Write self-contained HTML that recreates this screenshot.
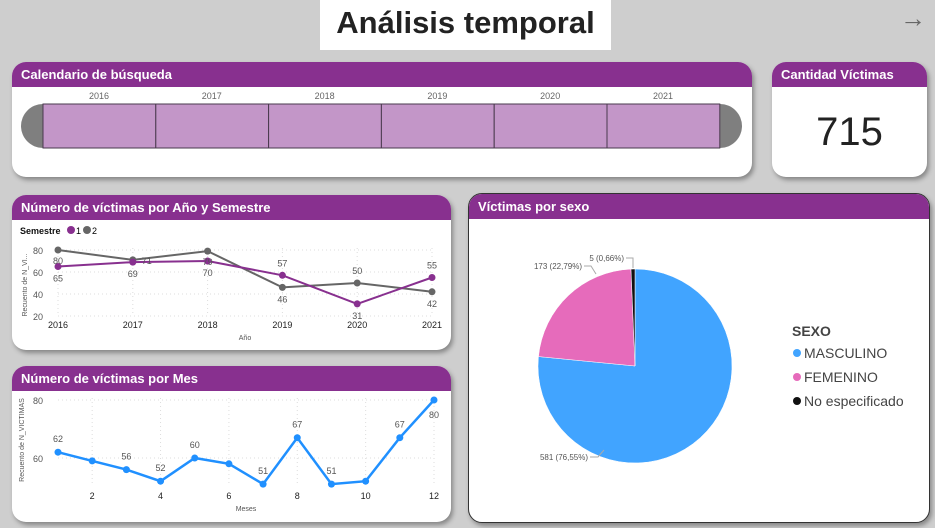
<!DOCTYPE html>
<html><head><meta charset="utf-8"><style>
body{margin:0;width:935px;height:528px;background:#cecece;font-family:"Liberation Sans",sans-serif;overflow:hidden;position:relative}
.card{position:absolute;background:#fff;border-radius:14px;box-shadow:2px 3px 5px rgba(0,0,0,.35);overflow:hidden}
.hdr{background:#88308f;color:#fff;font-weight:bold;font-size:13px;height:25px;line-height:26px;padding-left:9px}
svg text{font-family:"Liberation Sans",sans-serif}
</style></head><body>
<div style="position:absolute;left:320px;top:0;width:291px;height:50px;background:#fff;text-align:center;font-size:31px;font-weight:bold;line-height:46px;color:#222">Análisis temporal</div>
<div style="position:absolute;left:900px;top:3px;font-size:26px;color:#666">→</div>

<div class="card" style="left:12px;top:62px;width:740px;height:115px">
<div class="hdr">Calendario de búsqueda</div>
<svg width="740" height="90" id="cal"></svg>
</div>

<div class="card" style="left:772px;top:62px;width:155px;height:115px">
<div class="hdr">Cantidad Víctimas</div>
<div style="text-align:center;font-size:40px;line-height:90px;color:#222">715</div>
</div>

<div class="card" style="left:12px;top:195px;width:439px;height:155px">
<div class="hdr">Número de víctimas por Año y Semestre</div>
</div>
<div class="card" style="left:12px;top:366px;width:439px;height:156px">
<div class="hdr">Número de víctimas por Mes</div>
</div>
<div class="card" style="left:468px;top:193px;width:460px;height:328px;border:1px solid #333">
<div class="hdr">Víctimas por sexo</div>
</div>

<svg id="main" width="935" height="528" style="position:absolute;left:0;top:0"></svg>

<script>
const calYears=["2016","2017","2018","2019","2020","2021"];
const years=["2016","2017","2018","2019","2020","2021"];
const sem1=[65,69,70,57,31,55];
const sem2=[80,71,79,46,50,42];
const yearTicks=[20,40,60,80];
const months=[1,2,3,4,5,6,7,8,9,10,11,12];
const monthVals=[62,59,56,52,60,58,51,67,51,52,67,80];
const monthLabelShown=[1,0,1,1,1,0,1,1,1,0,1,1];
const monthTicks=[60,80];
const sexLabels=["MASCULINO","FEMENINO","No especificado"];
const sexVals=[581,173,5];
const sexPct=["76,55%","22,79%","0,66%"];
const sexColors=["#41a4ff","#e66bbb","#111"];

const NS="http://www.w3.org/2000/svg";
function mk(p,t,a,txt){const e=document.createElementNS(NS,t);for(const k in a)e.setAttribute(k,a[k]);if(txt!==undefined)e.textContent=txt;p.appendChild(e);return e;}

// calendar
const cal=document.getElementById('cal');
mk(cal,'path',{d:'M31 17 A22 22 0 0 0 31 61 Z',fill:'#7f7f7f'});
mk(cal,'path',{d:'M708 17 A22 22 0 0 1 708 61 Z',fill:'#7f7f7f'});
calYears.forEach((y,i)=>{const x=31+i*112.8;
const r=mk(cal,'rect',{x:x,y:17,width:112.8,height:44,fill:'#c396c8',stroke:'#4a3a4e','stroke-width':1});

mk(cal,'text',{x:x+56,y:12,'text-anchor':'middle','font-size':9,fill:'#666'},y);});

const S=document.getElementById('main');
// year chart
const yx=i=>58+i*(432-58)/(years.length-1);
const yy=v=>316-(v-20)*(316-250)/60;
mk(S,'text',{x:20,y:234,'font-size':9,'font-weight':'bold',fill:'#111'},'Semestre');
mk(S,'circle',{cx:71,cy:230,r:4,fill:'#88308f'});mk(S,'text',{x:76,y:234,'font-size':9},'1');
mk(S,'circle',{cx:87,cy:230,r:4,fill:'#666'});mk(S,'text',{x:92,y:234,'font-size':9},'2');
yearTicks.forEach(t=>{mk(S,'text',{x:43,y:yy(t)+4,'text-anchor':'end','font-size':9,fill:'#555'},t);
mk(S,'line',{x1:58,x2:432,y1:yy(t),y2:yy(t),stroke:'#ddd','stroke-dasharray':'1 3'});});
years.forEach((y,i)=>{mk(S,'line',{x1:yx(i),x2:yx(i),y1:248,y2:316,stroke:'#ddd','stroke-dasharray':'1 3'});
mk(S,'text',{x:yx(i),y:328,'text-anchor':'middle','font-size':9,fill:'#222'},y);});
mk(S,'text',{x:245,y:340,'text-anchor':'middle','font-size':7,fill:'#555'},'Año');
mk(S,'text',{x:27,y:285,'text-anchor':'middle','font-size':7,fill:'#555',transform:'rotate(-90 27 285)'},'Recuento de N_VI...');
[[sem2,'#666','sem2'],[sem1,'#88308f','sem1']].forEach(([arr,c,n])=>{
const l=mk(S,'polyline',{points:arr.map((v,i)=>yx(i)+','+yy(v)).join(' '),fill:'none',stroke:c,'stroke-width':2});

arr.forEach((v,i)=>{mk(S,'circle',{cx:yx(i),cy:yy(v),r:3.5,fill:c});});});
years.forEach((y,i)=>{const a=sem1[i],b=sem2[i];
if(b>a && b-a<=16){ // gray slightly above: both labels below points
 mk(S,'text',{x:yx(i)+(b-a<4?14:0),y:b-a<4?yy(b)+4:yy(b)+14,'text-anchor':'middle','font-size':9,fill:'#555'},b);
 mk(S,'text',{x:yx(i),y:yy(a)+15,'text-anchor':'middle','font-size':9,fill:'#555'},a);
}else{
 const hi=Math.max(a,b),lo=Math.min(a,b);
 mk(S,'text',{x:yx(i),y:yy(hi)-9,'text-anchor':'middle','font-size':9,fill:'#555'},hi);
 mk(S,'text',{x:yx(i),y:yy(lo)+15,'text-anchor':'middle','font-size':9,fill:'#555'},lo);
}});

// month chart
const mx=m=>58+(m-1)*(434-58)/11;
const my=v=>458-(v-60)*(458-400)/20;
monthTicks.forEach(t=>{mk(S,'text',{x:43,y:my(t)+4,'text-anchor':'end','font-size':9,fill:'#555'},t);
mk(S,'line',{x1:58,x2:434,y1:my(t),y2:my(t),stroke:'#ddd','stroke-dasharray':'1 3'});});
months.forEach(m=>{if(m%2==0){mk(S,'line',{x1:mx(m),x2:mx(m),y1:398,y2:484,stroke:'#ddd','stroke-dasharray':'1 3'});
mk(S,'text',{x:mx(m),y:499,'text-anchor':'middle','font-size':9,fill:'#222'},m);}});
mk(S,'text',{x:246,y:511,'text-anchor':'middle','font-size':7,fill:'#555'},'Meses');
mk(S,'text',{x:24,y:440,'text-anchor':'middle','font-size':7,fill:'#555',transform:'rotate(-90 24 440)'},'Recuento de N_VICTIMAS');
const ml=mk(S,'polyline',{points:monthVals.map((v,i)=>mx(months[i])+','+my(v)).join(' '),fill:'none',stroke:'#2090ff','stroke-width':2.5});

monthVals.forEach((v,i)=>{mk(S,'circle',{cx:mx(months[i]),cy:my(v),r:3.5,fill:'#2090ff'});
if(monthLabelShown[i]){const last=i==monthVals.length-1;
mk(S,'text',{x:mx(months[i]),y:last?my(v)+18:my(v)-10,'text-anchor':'middle','font-size':9,fill:'#555'},v);}});

// pie
const cx=635,cy=366,R=97;
const tot=sexVals.reduce((a,b)=>a+b,0);
let ang=0;
sexVals.forEach((v,i)=>{const a0=ang,a1=ang+v/tot*2*Math.PI;ang=a1;
const p=(a)=>[cx+R*Math.sin(a),cy-R*Math.cos(a)];
const [x0,y0]=p(a0),[x1,y1]=p(a1);
const s=mk(S,'path',{d:`M${cx} ${cy} L${x0} ${y0} A${R} ${R} 0 ${a1-a0>Math.PI?1:0} 1 ${x1} ${y1} Z`,fill:sexColors[i],stroke:'#fff','stroke-width':0.5});
});
mk(S,'polyline',{points:'590,457 598,457 604,450',fill:'none',stroke:'#aaa'});
mk(S,'text',{x:588,y:460,'text-anchor':'end','font-size':8,fill:'#555'},sexVals[0]+' ('+sexPct[0]+')');
mk(S,'polyline',{points:'584,266 591,266 596,274',fill:'none',stroke:'#aaa'});
mk(S,'text',{x:582,y:269,'text-anchor':'end','font-size':8,fill:'#555'},sexVals[1]+' ('+sexPct[1]+')');
mk(S,'polyline',{points:'626,258 633,258 633,268',fill:'none',stroke:'#aaa'});
mk(S,'text',{x:624,y:261,'text-anchor':'end','font-size':8,fill:'#555'},sexVals[2]+' ('+sexPct[2]+')');
mk(S,'text',{x:792,y:336,'font-size':14,'font-weight':'bold',fill:'#444'},'SEXO');
sexLabels.forEach((l,i)=>{const y=353+i*24;
const c=mk(S,'circle',{cx:797,cy:y,r:4,fill:sexColors[i]});

mk(S,'text',{x:804,y:y+5,'font-size':14,fill:'#444'},l);});
</script>
</body></html>
